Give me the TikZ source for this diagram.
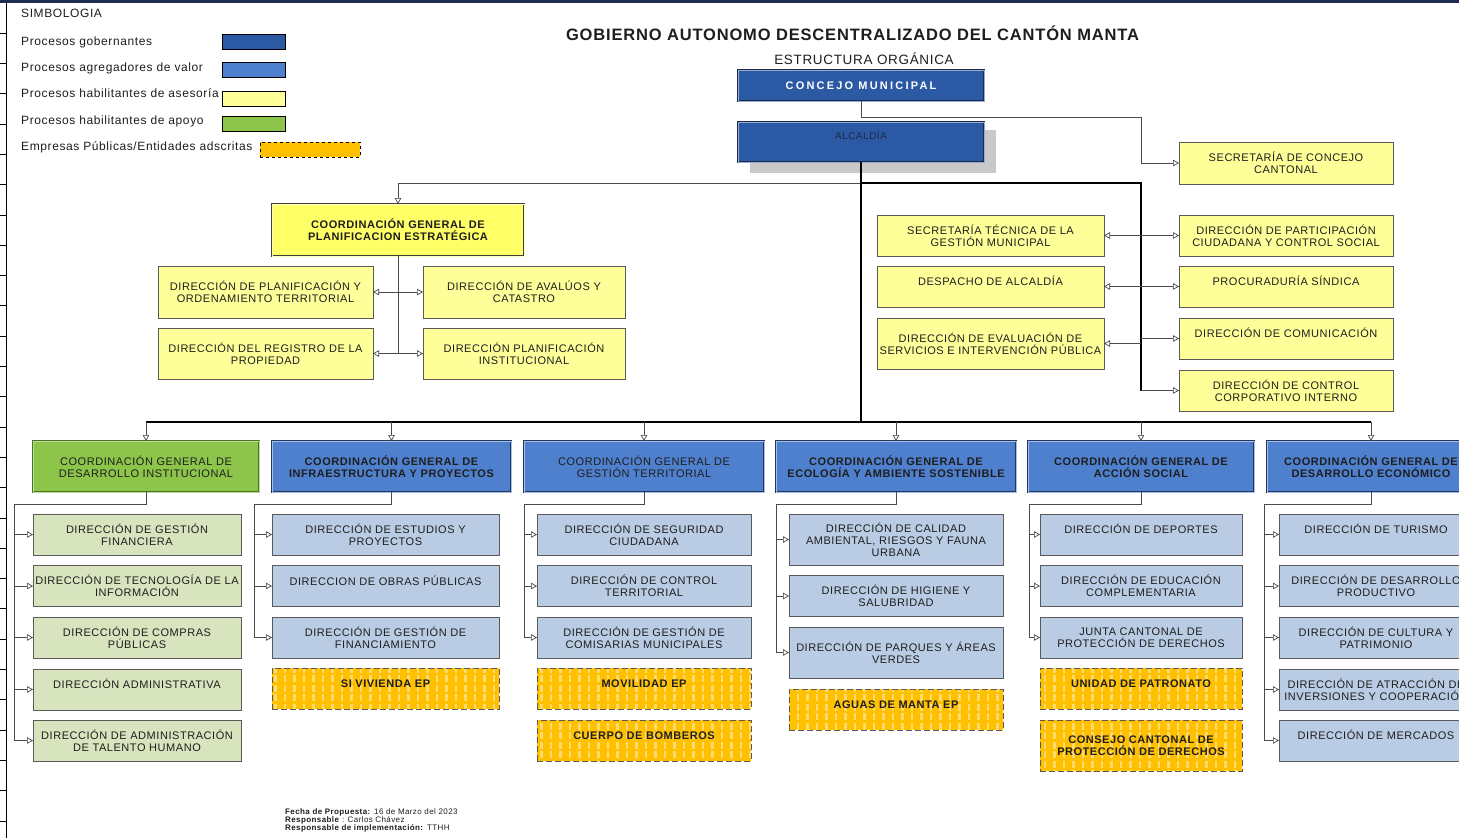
\documentclass[tikz,border=0pt]{standalone}
\usepackage{fontspec}
\setmainfont{Liberation Sans}[LetterSpace=5.0]
\usepackage{tikz}
\usetikzlibrary{arrows.meta,patterns.meta}

\definecolor{topnavy}{HTML}{1C2D4F}
\definecolor{gobfill}{HTML}{2C59A3}
\definecolor{gobline}{HTML}{1B2A48}
\definecolor{valfill}{HTML}{4F80CE}
\definecolor{valline}{HTML}{23365E}
\definecolor{asefill}{HTML}{FFFF99}
\definecolor{planfill}{HTML}{FFFF66}
\definecolor{apofill}{HTML}{8DC54B}
\definecolor{apoline}{HTML}{4C7027}
\definecolor{apolight}{HTML}{D7E4BD}
\definecolor{dirblue}{HTML}{B9CCE4}
\definecolor{empfill}{HTML}{FFC000}
\definecolor{empstripe}{HTML}{FFDA6E}
\definecolor{boxline}{HTML}{5A5A5A}
\definecolor{connline}{HTML}{4A4A4A}
\definecolor{shadowgray}{HTML}{C9C9C9}
\definecolor{txtdark}{HTML}{1E1E1E}

\newcommand{\boxfont}{\fontsize{11}{12}\selectfont}
\newcommand{\legfont}{\fontsize{12}{14}\selectfont}
\newcommand{\footfont}{\fontsize{8}{8}\selectfont}

\tikzset{
    orgbox/.style={rectangle,draw=boxline,line width=0.7pt,inner sep=0pt,outer sep=0pt,align=center,text=txtdark,font=\boxfont},
    asenode/.style={orgbox,fill=asefill},
    dirnode/.style={orgbox,fill=dirblue},
    aponode/.style={orgbox,fill=apolight},
    empnode/.style={orgbox,preaction={fill=empfill},pattern={Lines[angle=90,distance=9.5pt,line width=2.2pt]},pattern color=empstripe,dash pattern=on 6pt off 3pt,line width=0.9pt,font=\boxfont\bfseries},
    coordnode/.style={orgbox,fill=valfill,draw=valline,double=valfill!50!white,double distance=0.8pt,line width=0.8pt,minimum height=51},
    gobnode/.style={orgbox,fill=gobfill,draw=gobline,double=gobfill!50!white,double distance=0.8pt,line width=0.8pt},
    oneline/.style={text height=8pt,text depth=10pt},
    sz/.style 2 args={minimum width=#1,minimum height=#2},
    conn/.style={draw=connline,line width=0.7pt},
    mainline/.style={draw=black,line width=1.3pt},
    legtext/.style={anchor=base west,inner sep=0pt,font=\legfont,text=txtdark},
    legbox/.style={rectangle,draw=black,line width=0.9pt,minimum width=63,minimum height=15,inner sep=0pt}
}

\begin{document}
\begin{tikzpicture}[x=1pt,y=-1pt,>={Triangle[open,length=6pt,width=6.5pt]}]
\useasboundingbox (0,0) rectangle (1459,838);
\clip (0,0) rectangle (1459,838);
\fill[white] (0,0) rectangle (1459,838);

% page frame
\fill[topnavy] (0,0) rectangle (1459,3);
\draw[black,line width=0.8pt] (6,3) -- (6,838);
\foreach \ty in {33,63.3,...,830}
    \draw[black,line width=0.6pt] (0,\ty) -- (6,\ty);

% legend
\node[legtext] (simb) at (21,17.5) {SIMBOLOGIA};
\node[legtext] (lgob) at (21,45) {Procesos gobernantes};
\node[legtext] (lval) at (21,71) {Procesos agregadores de valor};
\node[legtext] (lase) at (21,97.5) {Procesos habilitantes de asesoría};
\node[legtext] (lapo) at (21,124) {Procesos habilitantes de apoyo};
\node[legtext] (lemp) at (21,150) {Empresas Públicas/Entidades adscritas};
\node[legbox,fill=gobfill] (bgob) at (253.5,41.5) {};
\node[legbox,fill=valfill] (bval) at (253.5,69.5) {};
\node[legbox,fill=asefill] (base) at (253.5,98.5) {};
\node[legbox,fill=apofill] (bapo) at (253.5,123.5) {};
\node[legbox,fill=empfill,dashed,minimum width=100] (bemp) at (310,149.5) {};

% titles
\node[font=\fontsize{16.5}{20}\selectfont\bfseries,text=txtdark,inner sep=0pt] (titulo) at (852.5,33) {GOBIERNO AUTONOMO DESCENTRALIZADO DEL CANTÓN MANTA};
\node[font=\fontsize{13.5}{16}\selectfont,text=txtdark,inner sep=0pt] (subtitulo) at (864,59) {ESTRUCTURA ORGÁNICA};

% governing level
\node[gobnode,sz={246}{31},text=white,font=\boxfont\bfseries\addfontfeature{LetterSpace=20}] (concejo) at (861,85.5) {CONCEJO MUNICIPAL};
\fill[shadowgray] (750,130) rectangle (996,173);
\node[gobnode,sz={246}{40},text=gobline,font=\fontsize{10}{12}\selectfont,text height=7pt,text depth=11.8pt] (alcaldia) at (861,142) {ALCALDÍA};

% advisory boxes
\node[asenode,sz={214}{42}] (secconcejo) at (1286,163) {SECRETARÍA DE CONCEJO\\CANTONAL};
\node[asenode,sz={214}{41}] (partic) at (1286,235.5) {DIRECCIÓN DE PARTICIPACIÓN\\CIUDADANA Y CONTROL SOCIAL};
\node[asenode,sz={214}{41},oneline] (procur) at (1286,286.5) {PROCURADURÍA SÍNDICA};
\node[asenode,sz={214}{41},oneline] (comunic) at (1286,338.5) {DIRECCIÓN DE COMUNICACIÓN};
\node[asenode,sz={214}{41}] (controlint) at (1286,390.5) {DIRECCIÓN DE CONTROL\\CORPORATIVO INTERNO};
\node[asenode,sz={227}{41}] (sectec) at (990.5,235.5) {SECRETARÍA TÉCNICA DE LA\\GESTIÓN MUNICIPAL};
\node[asenode,sz={227}{41},oneline] (despacho) at (990.5,286.5) {DESPACHO DE ALCALDÍA};
\node[asenode,sz={227}{51}] (evalua) at (990.5,343.5) {DIRECCIÓN DE EVALUACIÓN DE\\SERVICIOS E INTERVENCIÓN PÚBLICA};

% planning
\node[orgbox,sz={252}{52},fill=planfill,draw=boxline!70!black,double=planfill!40!white,double distance=0.8pt,line width=0.8pt,font=\boxfont\bfseries] (planif) at (398,230) {COORDINACIÓN GENERAL DE\\PLANIFICACION ESTRATÉGICA};
\node[asenode,sz={215}{52}] (planord) at (265.5,292) {DIRECCIÓN DE PLANIFICACIÓN Y\\ORDENAMIENTO TERRITORIAL};
\node[asenode,sz={202}{52}] (avaluos) at (524,292) {DIRECCIÓN DE AVALÚOS Y\\CATASTRO};
\node[asenode,sz={215}{51}] (registro) at (265.5,353.5) {DIRECCIÓN DEL REGISTRO DE LA\\PROPIEDAD};
\node[asenode,sz={202}{51}] (planinst) at (524,353.5) {DIRECCIÓN PLANIFICACIÓN\\INSTITUCIONAL};

% coordinations
\node[coordnode,minimum width=226,fill=apofill,draw=apoline,double=apofill!60!white] (c1) at (146,466.5) {COORDINACIÓN GENERAL DE\\DESARROLLO INSTITUCIONAL};
\node[coordnode,minimum width=239,font=\boxfont\bfseries] (c2) at (391.5,466.5) {COORDINACIÓN GENERAL DE\\INFRAESTRUCTURA Y PROYECTOS};
\node[coordnode,minimum width=240] (c3) at (644,466.5) {COORDINACIÓN GENERAL DE\\GESTIÓN TERRITORIAL};
\node[coordnode,minimum width=240,font=\boxfont\bfseries] (c4) at (896,466.5) {COORDINACIÓN GENERAL DE\\ECOLOGÍA Y AMBIENTE SOSTENIBLE};
\node[coordnode,minimum width=226,font=\boxfont\bfseries] (c5) at (1141,466.5) {COORDINACIÓN GENERAL DE\\ACCIÓN SOCIAL};
\node[coordnode,minimum width=208,font=\boxfont\bfseries] (c6) at (1371,466.5) {COORDINACIÓN GENERAL DE\\DESARROLLO ECONÓMICO};

% column 1
\node[aponode,sz={208}{41}] (d11) at (137,534.5) {DIRECCIÓN DE GESTIÓN\\FINANCIERA};
\node[aponode,sz={208}{41}] (d12) at (137,586) {DIRECCIÓN DE TECNOLOGÍA DE LA\\INFORMACIÓN};
\node[aponode,sz={208}{41}] (d13) at (137,637.5) {DIRECCIÓN DE COMPRAS\\PÚBLICAS};
\node[aponode,sz={208}{41},oneline] (d14) at (137,689.5) {DIRECCIÓN ADMINISTRATIVA};
\node[aponode,sz={208}{41}] (d15) at (137,740.5) {DIRECCIÓN DE ADMINISTRACIÓN\\DE TALENTO HUMANO};

% column 2
\node[dirnode,sz={227}{41}] (d21) at (385.5,534.5) {DIRECCIÓN DE ESTUDIOS Y\\PROYECTOS};
\node[dirnode,sz={227}{41},oneline] (d22) at (385.5,586) {DIRECCION DE OBRAS PÚBLICAS};
\node[dirnode,sz={227}{41}] (d23) at (385.5,637.5) {DIRECCIÓN DE GESTIÓN DE\\FINANCIAMIENTO};
\node[empnode,sz={227}{41},oneline] (e21) at (385.5,688.5) {SI VIVIENDA EP};

% column 3
\node[dirnode,sz={214}{41}] (d31) at (644,534.5) {DIRECCIÓN DE SEGURIDAD\\CIUDADANA};
\node[dirnode,sz={214}{41}] (d32) at (644,586) {DIRECCIÓN DE CONTROL\\TERRITORIAL};
\node[dirnode,sz={214}{41}] (d33) at (644,637.5) {DIRECCIÓN DE GESTIÓN DE\\COMISARIAS MUNICIPALES};
\node[empnode,sz={214}{41},oneline] (e31) at (644,688.5) {MOVILIDAD EP};
\node[empnode,sz={214}{41},oneline] (e32) at (644,740.5) {CUERPO DE BOMBEROS};

% column 4
\node[dirnode,sz={214}{51}] (d41) at (896,539.5) {DIRECCIÓN DE CALIDAD\\AMBIENTAL, RIESGOS Y FAUNA\\URBANA};
\node[dirnode,sz={214}{41}] (d42) at (896,596) {DIRECCIÓN DE HIGIENE Y\\SALUBRIDAD};
\node[dirnode,sz={214}{51}] (d43) at (896,652.5) {DIRECCIÓN DE PARQUES Y ÁREAS\\VERDES};
\node[empnode,sz={214}{41},oneline] (e41) at (896,709.5) {AGUAS DE MANTA EP};

% column 5
\node[dirnode,sz={202}{41},oneline] (d51) at (1141,534.5) {DIRECCIÓN DE DEPORTES};
\node[dirnode,sz={202}{41}] (d52) at (1141,586) {DIRECCIÓN DE EDUCACIÓN\\COMPLEMENTARIA};
\node[dirnode,sz={202}{41}] (d53) at (1141,637.5) {JUNTA CANTONAL DE\\PROTECCIÓN DE DERECHOS};
\node[empnode,sz={202}{41},oneline] (e51) at (1141,688.5) {UNIDAD DE PATRONATO};
\node[empnode,sz={202}{51}] (e52) at (1141,745.5) {CONSEJO CANTONAL DE\\PROTECCIÓN DE DERECHOS};

% column 6 (runs past the right edge, as in the chart)
\node[dirnode,sz={194}{41},oneline] (d61) at (1376,534.5) {DIRECCIÓN DE TURISMO};
\node[dirnode,sz={194}{41}] (d62) at (1376,586) {DIRECCIÓN DE DESARROLLO\\PRODUCTIVO};
\node[dirnode,sz={194}{41}] (d63) at (1376,637.5) {DIRECCIÓN DE CULTURA Y\\PATRIMONIO};
\node[dirnode,sz={194}{41}] (d64) at (1376,689.5) {DIRECCIÓN DE ATRACCIÓN DE\\INVERSIONES Y COOPERACIÓN};
\node[dirnode,sz={194}{41},oneline] (d65) at (1376,740.5) {DIRECCIÓN DE MERCADOS};

% connectors at the top
\coordinate (cbend) at (1141,117);
\coordinate (split) at (861,183);
\coordinate (rbus) at (1141,183);
\coordinate (hbar) at (861,422);
\draw[conn,->] (concejo.south) |- (cbend) |- (secconcejo.west);
\draw[conn,->] (split) -| (planif.north);
\draw[mainline] (alcaldia.south) -- (hbar);
\draw[mainline] (split) -- (rbus) -- (rbus |- controlint.west);
\foreach \n in {partic,procur,comunic,controlint}
    \draw[conn,->] (rbus |- \n.west) -- (\n.west);
\foreach \n in {sectec,despacho,evalua}
    \draw[conn,->] (rbus |- \n.east) -- (\n.east);

% planning branch
\draw[conn] (planif.south) -- (planif.south |- registro.east);
\foreach \n in {planord,registro}
    \draw[conn,->] (planif.south |- \n.east) -- (\n.east);
\foreach \n in {avaluos,planinst}
    \draw[conn,->] (planif.south |- \n.west) -- (\n.west);

% main bar to coordinations
\draw[mainline] (c1.north |- hbar) -- (c6.north |- hbar);
\foreach \n in {c1,c2,c3,c4,c5,c6}
    \draw[conn,->] (\n.north |- hbar) -- (\n.north);

% brackets under coordinations
\coordinate (b1) at (14,504);
\coordinate (b2) at (254,504);
\coordinate (b3) at (524,504);
\coordinate (b4) at (776,504);
\coordinate (b5) at (1029,504);
\coordinate (b6) at (1264,504);
\draw[conn,line width=0.9pt] (c1.south) |- (b1) -- (b1 |- d15.west);
\draw[conn,line width=0.9pt] (c2.south) |- (b2) -- (b2 |- d23.west);
\draw[conn,line width=0.9pt] (c3.south) |- (b3) -- (b3 |- d33.west);
\draw[conn,line width=0.9pt] (c4.south) |- (b4) -- (b4 |- d43.west);
\draw[conn,line width=0.9pt] (c5.south) |- (b5) -- (b5 |- d53.west);
\draw[conn,line width=0.9pt] (c6.south) |- (b6) -- (b6 |- d65.west);
\foreach \n in {d11,d12,d13,d14,d15}
    \draw[conn,->] (b1 |- \n.west) -- (\n.west);
\foreach \n in {d21,d22,d23}
    \draw[conn,->] (b2 |- \n.west) -- (\n.west);
\foreach \n in {d31,d32,d33}
    \draw[conn,->] (b3 |- \n.west) -- (\n.west);
\foreach \n in {d41,d42,d43}
    \draw[conn,->] (b4 |- \n.west) -- (\n.west);
\foreach \n in {d51,d52,d53}
    \draw[conn,->] (b5 |- \n.west) -- (\n.west);
\foreach \n in {d61,d62,d63,d64,d65}
    \draw[conn,->] (b6 |- \n.west) -- (\n.west);

% footer
\node[anchor=north west,inner sep=0pt,align=left,font=\footfont,text=txtdark] (pie) at (285,808) {\textbf{Fecha de Propuesta:} 16 de Marzo del 2023\\\textbf{Responsable} : Carlos Chávez\\\textbf{Responsable de implementación:} TTHH};
\end{tikzpicture}
\end{document}
